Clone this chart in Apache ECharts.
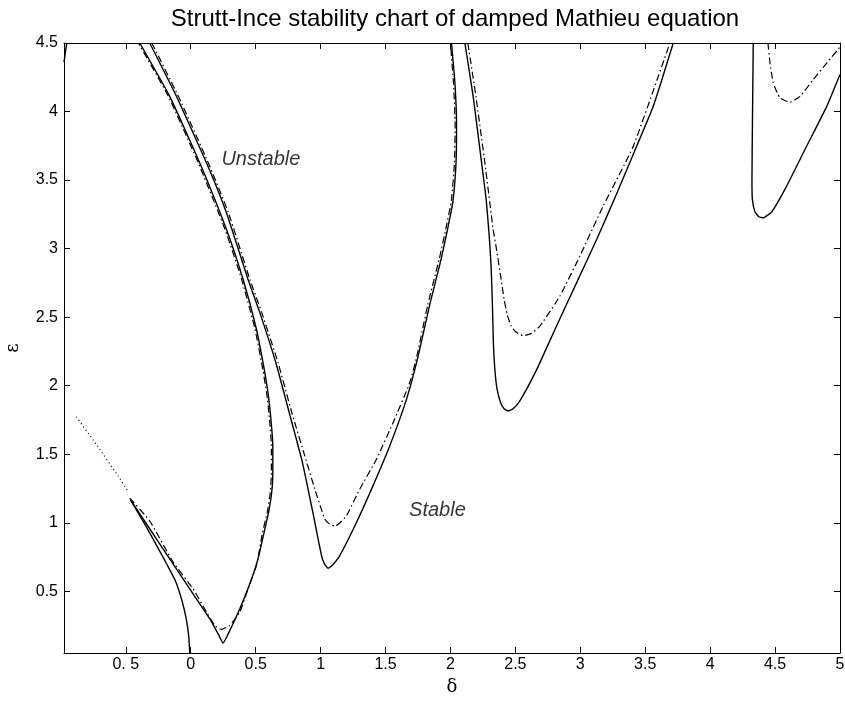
<!DOCTYPE html>
<html>
<head>
<meta charset="utf-8">
<script src="https://cdn.jsdelivr.net/npm/echarts@6/dist/echarts.min.js"></script>
<style>
html, body { margin: 0; padding: 0; background: #fff; }
#chartmain { width: 845px; height: 702px; }
</style>
</head>
<body>
<div id="chartmain"></div>
<script>
// tick positions
var xTicks = [-0.5, 0, 0.5, 1, 1.5, 2, 2.5, 3, 3.5, 4, 4.5, 5];
var yTicks = [0.5, 1, 1.5, 2, 2.5, 3, 3.5, 4, 4.5];

// transition curves [delta, epsilon]
var cornerSolid = [[-0.955, 4.5], [-0.976, 4.36]];
var a0Solid = [[-0.465, 1.169], [-0.36, 1.0], [-0.26, 0.83], [-0.18, 0.69], [-0.12, 0.58],
	[-0.07, 0.44], [-0.035, 0.30], [-0.015, 0.17], [-0.008, 0.05]];
var tongue1Solid = [[-0.465, 1.169], [-0.239, 0.846], [0.018, 0.482], [0.146, 0.300],
	[0.210, 0.191], [0.249, 0.123], [0.300, 0.212], [0.378, 0.373], [0.455, 0.555],
	[0.518, 0.737], [0.565, 0.93], [0.600, 1.08], [0.622, 1.21], [0.632, 1.36],
	[0.632, 1.56], [0.618, 1.75], [0.595, 1.95], [0.560, 2.15], [0.506, 2.412],
	[0.403, 2.776], [0.275, 3.140], [0.069, 3.626], [-0.162, 4.111], [-0.393, 4.5]];
var tongue1Dash = [[-0.47, 1.18], [-0.316, 1.013], [-0.136, 0.713], [0.018, 0.518],
	[0.121, 0.349], [0.185, 0.251], [0.236, 0.222], [0.300, 0.251], [0.378, 0.349],
	[0.441, 0.518], [0.506, 0.688], [0.553, 0.93], [0.590, 1.08], [0.611, 1.21],
	[0.621, 1.36], [0.621, 1.56], [0.607, 1.75], [0.584, 1.95], [0.549, 2.15],
	[0.495, 2.412], [0.392, 2.776], [0.264, 3.140], [0.058, 3.626], [-0.172, 4.111],
	[-0.403, 4.5]];
var tongue2Solid = [[-0.316, 4.5], [-0.110, 4.111], [0.121, 3.626], [0.275, 3.262],
	[0.441, 2.776], [0.532, 2.533], [0.655, 2.169], [0.758, 1.805], [0.860, 1.441],
	[0.940, 1.077], [1.007, 0.761], [1.03, 0.70], [1.058, 0.668], [1.09, 0.69],
	[1.148, 0.761], [1.277, 1.004], [1.404, 1.271], [1.533, 1.562], [1.662, 1.902],
	[1.75, 2.21], [1.841, 2.593], [1.93, 2.93], [1.982, 3.160], [2.020, 3.35],
	[2.043, 3.626], [2.047, 3.90], [2.035, 4.2], [2.008, 4.5]];
var tongue2Dash = [[-0.30, 4.5], [-0.095, 4.111], [0.135, 3.626], [0.29, 3.262],
	[0.455, 2.776], [0.547, 2.533], [0.672, 2.169], [0.778, 1.805], [0.878, 1.489],
	[0.955, 1.247], [1.032, 1.028], [1.07, 0.99], [1.109, 0.975],
	[1.150, 1.0], [1.200, 1.052], [1.302, 1.247], [1.431, 1.465], [1.559, 1.732],
	[1.687, 2.023], [1.74, 2.21], [1.826, 2.593], [1.915, 2.93], [1.968, 3.160],
	[2.007, 3.35], [2.031, 3.626], [2.036, 3.90], [2.024, 4.2], [2.0, 4.5]];
var tongue3Solid = [[2.111, 4.5], [2.175, 4.111], [2.240, 3.626], [2.275, 3.36],
	[2.298, 3.10], [2.313, 2.873], [2.323, 2.60], [2.331, 2.30], [2.342, 2.12],
	[2.358, 1.98], [2.385, 1.88], [2.415, 1.830], [2.445, 1.815], [2.48, 1.83],
	[2.535, 1.890], [2.663, 2.115], [2.817, 2.436], [2.972, 2.752], [3.126, 3.067],
	[3.28, 3.40], [3.434, 3.747], [3.562, 4.038], [3.716, 4.5]];
var tongue3Dash = [[2.134, 4.5], [2.196, 4.111], [2.265, 3.626], [2.329, 3.140],
	[2.355, 2.995], [2.394, 2.752], [2.415, 2.62], [2.437, 2.52], [2.465, 2.44],
	[2.50, 2.395], [2.560, 2.365], [2.62, 2.38], [2.689, 2.435], [2.843, 2.654],
	[2.997, 2.946], [3.176, 3.310], [3.408, 3.747], [3.690, 4.5]];
var tongue4Solid = [[4.332, 4.5], [4.326, 3.941], [4.322, 3.50], [4.325, 3.36],
	[4.345, 3.268], [4.375, 3.232], [4.405, 3.225], [4.474, 3.268], [4.589, 3.456],
	[4.743, 3.747], [4.898, 4.038], [5.0, 4.27]];
var tongue4Dash = [[4.445, 4.5], [4.461, 4.354], [4.486, 4.209], [4.538, 4.099],
	[4.615, 4.068], [4.692, 4.111], [4.794, 4.233], [4.898, 4.354], [5.0, 4.47]];
var dottedPart = [[-0.881, 1.773], [-0.724, 1.567], [-0.560, 1.343], [-0.485, 1.232]];

// region labels
var regionNames = ['Unstable', 'Stable'];
var regionPos = [[0.54, 3.65], [1.9, 1.09]];

var solidStyle = { color: '#000', width: 1.4, type: 'solid' };
var dashStyle = { color: '#000', width: 1.2, type: [7, 3, 1.5, 3] };

function curve(data, style) {
	return {
		type: 'line',
		data: data,
		showSymbol: false,
		symbol: 'none',
		smooth: 0.15,
		lineStyle: style,
		silent: true
	};
}

var textFont = 'Liberation Sans, Arial, Helvetica, sans-serif';

var option = {
	animation: false,
	backgroundColor: '#fff',
	title: {
		text: 'Strutt-Ince stability chart of damped Mathieu equation',
		left: 450,
		textAlign: 'center',
		top: 2,
		textStyle: { fontFamily: textFont, fontWeight: 'normal', fontSize: 24, color: '#000' }
	},
	grid: { left: 64, right: 5, top: 43, bottom: 49, containLabel: false, outerBoundsMode: 'none' },
	xAxis: [{
		type: 'value',
		min: -0.976,
		max: 5,
		name: 'δ',
		nameLocation: 'middle',
		nameGap: 24,
		nameTextStyle: { fontFamily: 'DejaVu Serif, serif', fontSize: 18, color: '#000' },
		axisLine: { onZero: false, lineStyle: { color: '#000', width: 1 } },
		axisTick: { inside: true, length: 6, customValues: xTicks, lineStyle: { color: '#000' } },
		axisLabel: {
			customValues: xTicks,
			margin: 4,
			fontFamily: textFont, fontSize: 16, color: '#000',
			formatter: function (v) { return v === -0.5 ? '0. 5' : String(v); }
		},
		splitLine: { show: false }
	}, {
		type: 'value',
		position: 'top',
		min: -0.976,
		max: 5,
		axisLine: { onZero: false, lineStyle: { color: '#000', width: 1 } },
		axisTick: { inside: true, length: 6, customValues: xTicks, lineStyle: { color: '#000' } },
		axisLabel: { show: false },
		splitLine: { show: false }
	}],
	yAxis: [{
		type: 'value',
		min: 0.05,
		max: 4.5,
		name: 'ε',
		nameLocation: 'middle',
		nameGap: 42,
		nameRotate: 90,
		nameTextStyle: { fontFamily: 'DejaVu Serif, serif', fontSize: 18, color: '#000' },
		axisLine: { show: true, onZero: false, lineStyle: { color: '#000', width: 1 } },
		axisTick: { show: true, inside: true, length: 6, customValues: yTicks, lineStyle: { color: '#000' } },
		axisLabel: {
			customValues: yTicks,
			margin: 6,
			fontFamily: textFont, fontSize: 16, color: '#000'
		},
		splitLine: { show: false }
	}, {
		type: 'value',
		position: 'right',
		min: 0.05,
		max: 4.5,
		axisLine: { show: true, onZero: false, lineStyle: { color: '#000', width: 1 } },
		axisTick: { show: true, inside: true, length: 6, customValues: yTicks, lineStyle: { color: '#000' } },
		axisLabel: { show: false },
		splitLine: { show: false }
	}],
	series: [
		curve(cornerSolid, solidStyle),
		curve(a0Solid, solidStyle),
		curve(tongue1Solid, solidStyle),
		curve(tongue1Dash, dashStyle),
		curve(tongue2Solid, solidStyle),
		curve(tongue2Dash, dashStyle),
		curve(tongue3Solid, solidStyle),
		curve(tongue3Dash, dashStyle),
		curve(tongue4Solid, solidStyle),
		curve(tongue4Dash, dashStyle),
		curve(dottedPart, { color: '#000', width: 1.2, type: [1, 3] }),
		{
			type: 'scatter',
			symbolSize: 0,
			silent: true,
			data: regionNames.map(function (n, i) {
				return { name: n, value: regionPos[i] };
			}),
			label: {
				show: true,
				position: 'inside',
				formatter: '{b}',
				fontFamily: textFont,
				fontStyle: 'italic',
				fontSize: 20,
				color: '#000'
			}
		}
	]
};

var myChart = echarts.init(document.getElementById('chartmain'));
myChart.setOption(option);
</script>
</body>
</html>
